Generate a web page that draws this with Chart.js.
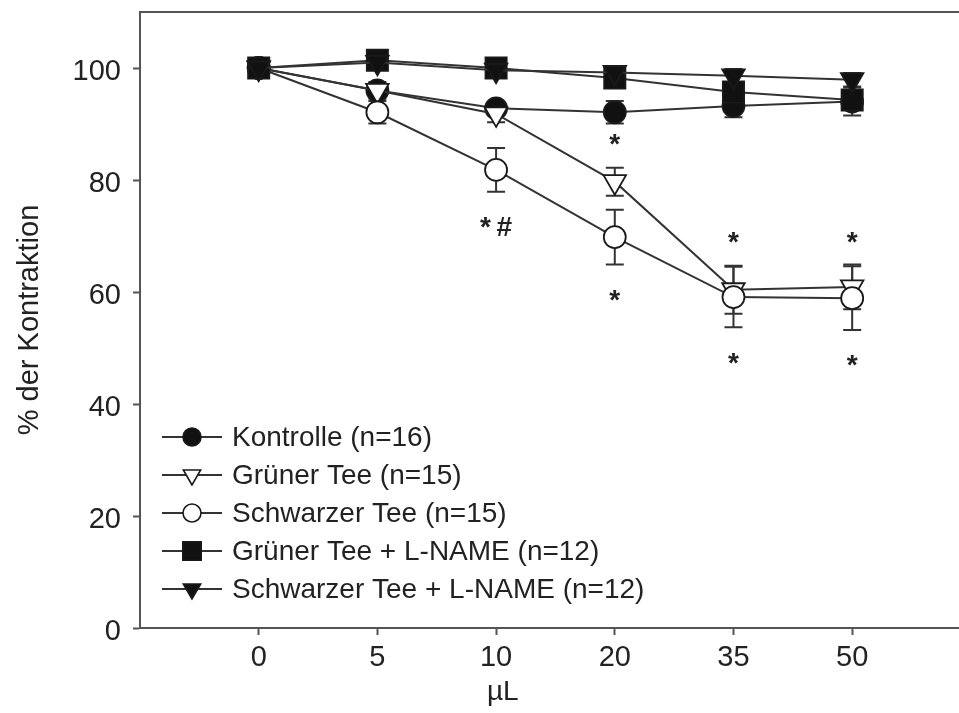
<!DOCTYPE html>
<html>
<head>
<meta charset="utf-8">
<title>Kontraktion</title>
<script src="https://cdn.jsdelivr.net/npm/chart.js"></script>
<style>
  html, body { margin: 0; padding: 0; background: #fff; overflow: hidden; }
  #wrap { width: 959px; height: 713px; position: relative; }
</style>
</head>
<body>
<div id="wrap"><canvas id="myChart"></canvas></div>
<script>
// x categories (µL)
const doses = ['0', '5', '10', '20', '35', '50'];
const yTicks = [0, 20, 40, 60, 80, 100];

const seriesNames = [
  'Kontrolle (n=16)',
  'Grüner Tee (n=15)',
  'Schwarzer Tee (n=15)',
  'Grüner Tee + L-NAME (n=12)',
  'Schwarzer Tee + L-NAME (n=12)'
];

// means, % der Kontraktion
const kontrolle      = [100, 96.0, 92.8, 92.1, 93.2, 94.0];
const gruenerTee     = [100, 96.0, 91.8, 79.7, 60.4, 60.9];
const schwarzerTee   = [100, 92.1, 81.8, 69.8, 59.1, 58.9];
const gruenerLName   = [100, 101.4, 100.0, 98.2, 95.7, 94.3];
const schwarzerLName = [100, 101.0, 99.6, 99.2, 98.6, 97.9];

// error bars (+/-)
const kontrolleErr      = [0.5, 1.0, 1.0, 2.0, 2.0, 2.5];
const gruenerTeeErr     = [0.5, 1.5, 1.5, 2.5, 4.3, 4.0];
const schwarzerTeeErr   = [0.5, 2.0, 3.9, 4.9, 5.4, 5.7];
const gruenerLNameErr   = [0.5, 1.0, 1.0, 1.2, 1.5, 1.5];
const schwarzerLNameErr = [0.5, 1.0, 1.0, 1.0, 1.2, 1.2];

// significance marks: dose index, y value, text
const sigIndex = [2, 3, 3, 4, 5, 4, 5];
const sigValue = [72.5, 87.3, 59.5, 69.8, 69.8, 48.2, 47.9];
const sigText  = ['*\u2009#', '*', '*', '*', '*', '*', '*'];

const ink = '#222';
const lineCol = '#333';
const axisCol = '#555';
const fontFam = '"Liberation Sans", Arial, Helvetica, sans-serif';

function toPoints(arr) {
  return arr.map((v, i) => ({ x: i, y: v }));
}

// later series sit on top (order 0 = drawn last)
const styles = [
  { style: 'circle',   rot: 0,   r: 11, fill: '#111', order: 4 },
  { style: 'triangle', rot: 180, r: 13, fill: '#fff', order: 3 },
  { style: 'circle',   rot: 0,   r: 11, fill: '#fff', order: 2 },
  { style: 'rect',     rot: 0,   r: 15, fill: '#111', order: 1 },
  { style: 'triangle', rot: 180, r: 13, fill: '#111', order: 0 }
];
const allValues = [kontrolle, gruenerTee, schwarzerTee, gruenerLName, schwarzerLName];
const allErrors = [kontrolleErr, gruenerTeeErr, schwarzerTeeErr, gruenerLNameErr, schwarzerLNameErr];

const datasets = allValues.map((vals, k) => ({
  label: seriesNames[k],
  data: toPoints(vals),
  errors: allErrors[k],
  borderColor: lineCol,
  borderWidth: 2,
  pointStyle: styles[k].style,
  rotation: styles[k].rot,
  pointRadius: styles[k].r,
  pointBackgroundColor: styles[k].fill,
  pointBorderColor: '#1a1a1a',
  pointBorderWidth: 1.8,
  order: styles[k].order,
  tension: 0
}));

// error bars behind the markers
const errorBars = {
  id: 'errorBars',
  beforeDatasetsDraw(chart) {
    const ctx = chart.ctx;
    const xs = chart.scales.x, ys = chart.scales.y;
    ctx.save();
    ctx.strokeStyle = lineCol;
    ctx.lineWidth = 2;
    chart.data.datasets.forEach(ds => {
      ds.data.forEach((p, i) => {
        const e = ds.errors[i];
        const px = xs.getPixelForValue(p.x);
        const top = ys.getPixelForValue(p.y + e);
        const bot = ys.getPixelForValue(p.y - e);
        ctx.beginPath();
        ctx.moveTo(px, top); ctx.lineTo(px, bot);
        ctx.moveTo(px - 9, top); ctx.lineTo(px + 9, top);
        ctx.moveTo(px - 9, bot); ctx.lineTo(px + 9, bot);
        ctx.stroke();
      });
    });
    ctx.restore();
  }
};

// asterisks, legend and frame
const extras = {
  id: 'extras',
  afterDraw(chart) {
    const ctx = chart.ctx;
    const xs = chart.scales.x, ys = chart.scales.y;
    const area = chart.chartArea;
    ctx.save();

    // top frame line
    ctx.strokeStyle = axisCol;
    ctx.lineWidth = 2;
    ctx.beginPath();
    ctx.moveTo(area.left - 1, area.top);
    ctx.lineTo(area.right, area.top);
    ctx.stroke();

    // significance
    ctx.fillStyle = ink;
    ctx.font = 'bold 28px ' + fontFam;
    ctx.textAlign = 'center';
    ctx.textBaseline = 'alphabetic';
    sigText.forEach((t, k) => {
      const px = xs.getPixelForValue(sigIndex[k]);
      const py = ys.getPixelForValue(sigValue[k]);
      ctx.fillText(t, px, py + 14);
    });

    // legend
    const lx0 = area.left + 22, lx1 = area.left + 82, mx = area.left + 52;
    const rowY0 = area.bottom - 191;
    ctx.font = '28px ' + fontFam;
    ctx.textAlign = 'left';
    ctx.textBaseline = 'middle';
    chart.data.datasets.forEach((ds, k) => {
      const y = rowY0 + k * 38;
      ctx.strokeStyle = lineCol;
      ctx.lineWidth = 2;
      ctx.beginPath();
      ctx.moveTo(lx0, y); ctx.lineTo(lx1, y);
      ctx.stroke();
      ctx.fillStyle = styles[k].fill;
      ctx.strokeStyle = '#1a1a1a';
      ctx.lineWidth = 1.6;
      Chart.helpers.drawPoint(ctx, {
        pointStyle: styles[k].style,
        rotation: styles[k].rot,
        radius: styles[k].style === 'rect' ? 13 : (styles[k].style === 'triangle' ? 10 : 9),
        borderWidth: 1.6
      }, mx, y);
      ctx.fillStyle = ink;
      ctx.fillText(ds.label, lx1 + 10, y + 1);
    });
    ctx.restore();
  }
};

const ctx = document.getElementById('myChart').getContext('2d');
const myChart = new Chart(ctx, {
  type: 'line',
  data: { datasets: datasets },
  plugins: [errorBars, extras],
  options: {
    responsive: true,
    maintainAspectRatio: false,
    animation: false,
    layout: { autoPadding: false, padding: { top: 12, right: 0, left: 0, bottom: 0 } },
    plugins: {
      legend: { display: false },
      tooltip: { enabled: false }
    },
    scales: {
      x: {
        type: 'linear',
        position: 'bottom',
        min: -1,
        max: 5.9,
        afterBuildTicks(scale) {
          scale.ticks = doses.map((d, i) => ({ value: i }));
        },
        afterFit(scale) {
          scale.height = 85;
          scale.paddingLeft = 0;
          scale.paddingRight = 0;
        },
        grid: { display: true, drawOnChartArea: false, drawTicks: true, tickLength: 7, tickWidth: 2, tickColor: axisCol },
        border: { display: true, color: axisCol, width: 2 },
        ticks: {
          color: ink,
          font: { size: 29, family: fontFam },
          padding: 6,
          maxRotation: 0,
          callback: (v) => doses[v]
        },
        title: {
          display: true,
          text: 'µL' + '\u00a0'.repeat(12),
          color: ink,
          font: { size: 28, family: fontFam },
          padding: { top: 0, bottom: 4 }
        }
      },
      y: {
        min: 0,
        max: 110,
        afterBuildTicks(scale) {
          scale.ticks = yTicks.map(v => ({ value: v }));
        },
        afterFit(scale) {
          scale.width = 140;
          scale.paddingTop = 0;
          scale.paddingBottom = 0;
        },
        grid: { display: true, drawOnChartArea: false, drawTicks: true, tickLength: 7, tickWidth: 2, tickColor: axisCol },
        border: { display: true, color: axisCol, width: 2 },
        ticks: {
          color: ink,
          font: { size: 29, family: fontFam },
          padding: 12,
          labelOffset: 4
        },
        title: {
          display: true,
          text: '% der Kontraktion',
          color: ink,
          font: { size: 29, family: fontFam },
          padding: { top: 13, bottom: 0 }
        }
      }
    }
  }
});
</script>
</body>
</html>
